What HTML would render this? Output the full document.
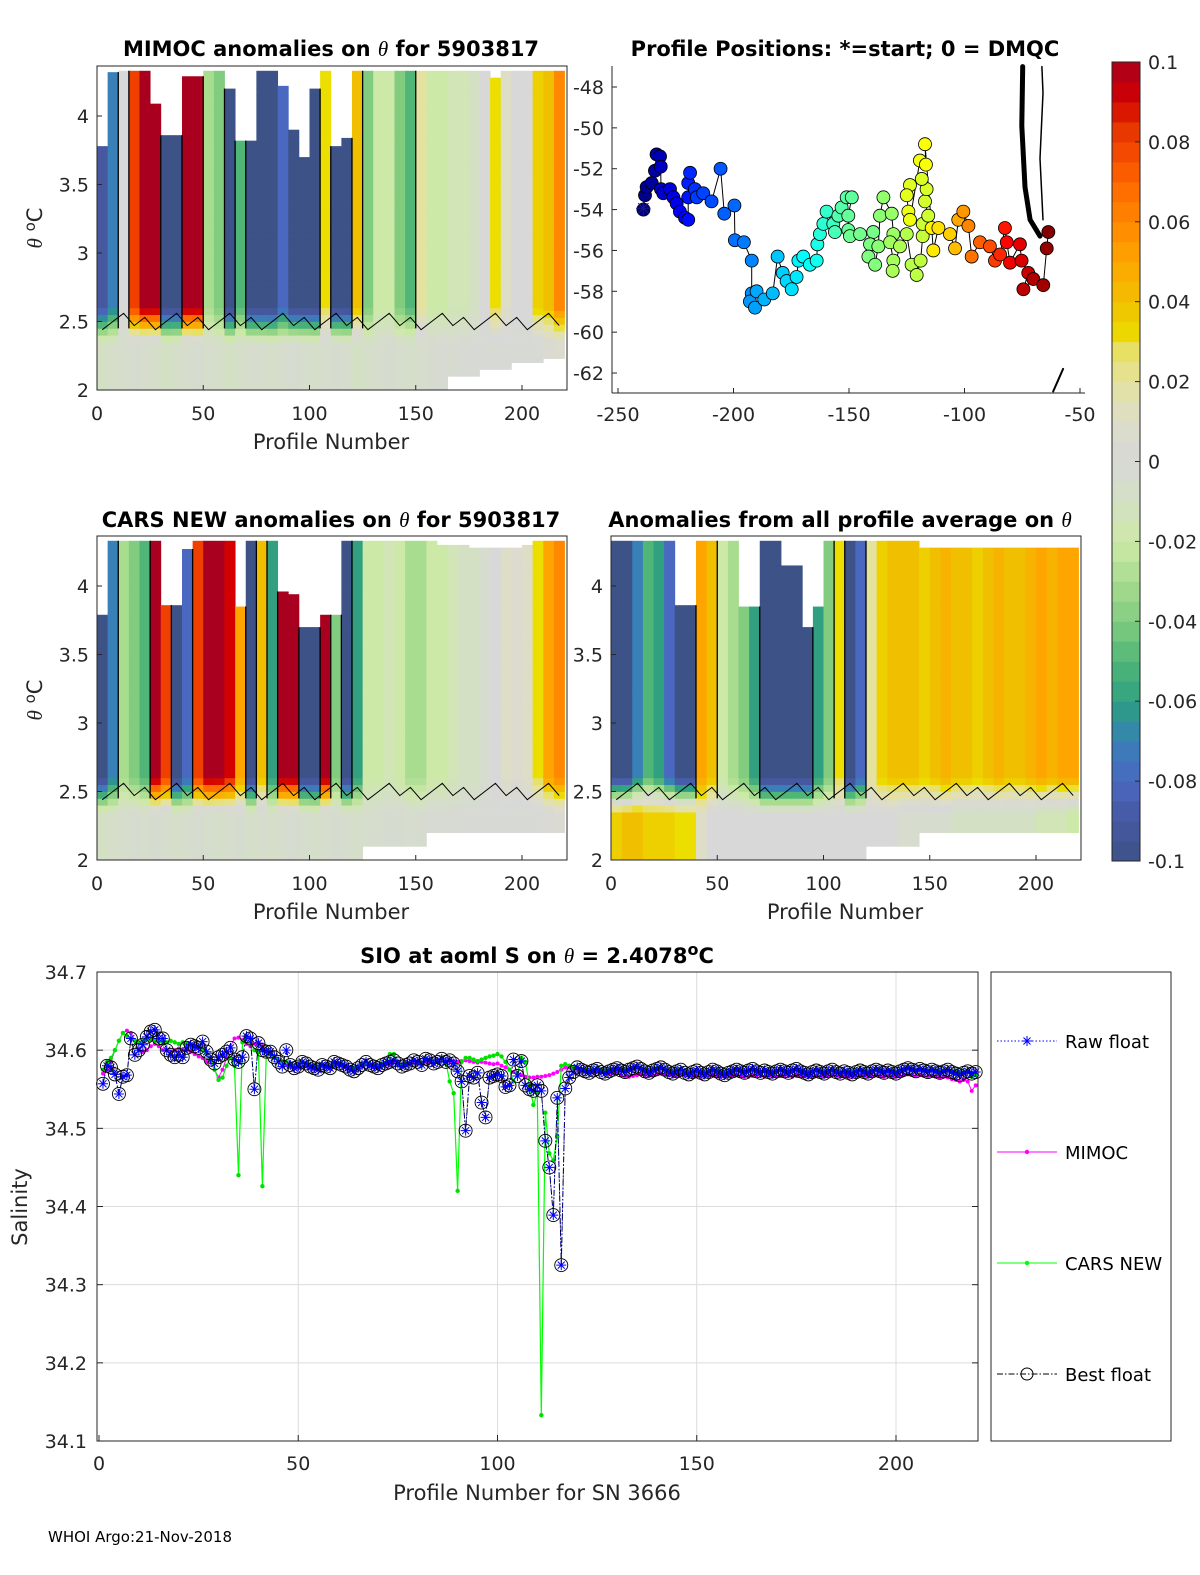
<!DOCTYPE html>
<html><head><meta charset="utf-8">
<style>
html,body{margin:0;padding:0;background:#fff;}
svg{display:block;font-family:"DejaVu Sans","Liberation Sans",sans-serif;}
.tk{font-size:19px;fill:#262626;}
.ttl{font-size:21px;font-weight:bold;fill:#000;}
.lbl{font-size:21px;fill:#262626;}
</style></head>
<body>
<svg id="fig" width="1200" height="1575" viewBox="0 0 1200 1575" xmlns="http://www.w3.org/2000/svg">
<g id="heat1"></g>
<g id="heat3"></g>
<g id="heat4"></g>
<g id="pos"></g>
<g id="cbar"></g>
<g id="sal"></g>
<g id="axes"></g>

<text class="ttl" x="331" y="56" text-anchor="middle">MIMOC anomalies on <tspan font-style="italic" font-weight="normal" font-family="Liberation Serif, serif">θ</tspan>  for 5903817</text>
<text class="ttl" x="845" y="56" text-anchor="middle">Profile Positions: *=start; 0 = DMQC</text>
<text class="ttl" x="331" y="527" text-anchor="middle">CARS NEW anomalies on <tspan font-style="italic" font-weight="normal" font-family="Liberation Serif, serif">θ</tspan> for 5903817</text>
<text class="ttl" x="840" y="527" text-anchor="middle">Anomalies from all profile average on <tspan font-style="italic" font-weight="normal" font-family="Liberation Serif, serif">θ</tspan></text>
<text class="ttl" x="537" y="963" text-anchor="middle">SIO at aoml S on <tspan font-style="italic" font-weight="normal" font-family="Liberation Serif, serif">θ</tspan> = 2.4078<tspan dy="-8" font-size="16">o</tspan><tspan dy="8">C</tspan></text>

<text class="lbl" x="331" y="449" text-anchor="middle">Profile Number</text>
<text class="lbl" x="331" y="919" text-anchor="middle">Profile Number</text>
<text class="lbl" x="845" y="919" text-anchor="middle">Profile Number</text>
<text class="lbl" x="537" y="1500" text-anchor="middle">Profile Number for SN 3666</text>
<text class="lbl" transform="translate(42,228) rotate(-90)" text-anchor="middle"><tspan font-style="italic" font-family="Liberation Serif, serif">θ</tspan> <tspan dy="-7" font-size="15">o</tspan><tspan dy="7">C</tspan></text>
<text class="lbl" transform="translate(42,700) rotate(-90)" text-anchor="middle"><tspan font-style="italic" font-family="Liberation Serif, serif">θ</tspan> <tspan dy="-7" font-size="15">o</tspan><tspan dy="7">C</tspan></text>
<text class="lbl" transform="translate(27,1207) rotate(-90)" text-anchor="middle">Salinity</text>
<text x="48" y="1542" font-size="15" fill="#000">WHOI Argo:21-Nov-2018</text>
</svg>
<script>
// ---------- heatmap data (5-profile bins, 44 bins) ----------
const binProfiles = [0,5,10,15,20,25,30,35,40,45,50,55,60,65,70,75,80,85,90,95,100,105,110,115,120,125,130,135,140,145,150,155,160,165,170,175,180,185,190,195,200,205,210,215];
const mimocUpper = [-0.09,-0.07,0,0.08,0.1,0.1,-0.1,-0.1,0.1,0.1,-0.03,-0.04,-0.1,-0.05,-0.1,-0.1,-0.1,-0.08,-0.1,-0.1,-0.1,0.03,-0.1,-0.1,0.04,-0.04,-0.02,-0.02,-0.04,-0.05,0.02,-0.02,-0.02,-0.015,-0.015,-0.01,0,0.03,0.01,0,0,0.035,0.04,0.06];
const mimocTop = [3.78,4.32,4.33,4.33,4.33,4.09,3.86,3.86,4.29,4.29,4.33,4.33,4.2,3.82,3.82,4.33,4.33,4.22,3.9,3.7,4.2,4.33,3.78,3.84,4.33,4.33,4.33,4.33,4.33,4.33,4.33,4.33,4.33,4.33,4.33,4.33,4.33,4.28,4.33,4.33,4.33,4.33,4.33,4.33];
const mimocBottom = [2,2,2,2,2,2,2,2,2,2,2,2,2,2,2,2,2,2,2,2,2,2,2,2,2,2,2,2,2,2,2,2,2,2.1,2.1,2.1,2.15,2.15,2.15,2.2,2.2,2.2,2.23,2.23];
const mimocLower = [-0.01,-0.008,-0.006,-0.004,-0.006,-0.008,-0.01,-0.008,-0.006,-0.004,-0.006,-0.008,-0.01,-0.008,-0.006,-0.006,-0.008,-0.006,-0.004,-0.006,-0.008,-0.006,-0.004,-0.006,-0.01,-0.008,-0.006,-0.004,-0.006,-0.008,-0.006,-0.004,-0.003,-0.004,-0.003,-0.002,-0.002,-0.003,-0.002,-0.002,-0.002,-0.002,0.004,0.006];
const carsUpper = [-0.1,-0.07,-0.03,-0.04,-0.05,0.1,0.08,-0.1,-0.08,0.08,0.1,0.1,0.09,0.05,-0.1,0.04,-0.06,0.1,0.1,-0.1,-0.1,0.1,-0.04,-0.1,-0.06,-0.02,-0.02,-0.015,-0.02,-0.03,-0.03,-0.02,-0.02,-0.015,-0.01,-0.01,-0.005,0,0.01,0.005,0.01,0.03,0.05,0.06];
const carsTop = [3.79,4.33,4.33,4.33,4.33,4.33,3.86,3.86,4.27,4.33,4.33,4.33,4.33,3.85,4.33,4.33,4.33,3.96,3.94,3.7,3.7,3.79,3.79,4.33,4.33,4.33,4.33,4.33,4.33,4.33,4.33,4.33,4.3,4.3,4.3,4.28,4.28,4.28,4.28,4.28,4.3,4.33,4.33,4.33];
const carsBottom = [2,2,2,2,2,2,2,2,2,2,2,2,2,2,2,2,2,2,2,2,2,2,2,2,2,2.1,2.1,2.1,2.1,2.1,2.1,2.2,2.2,2.2,2.2,2.2,2.2,2.2,2.2,2.2,2.2,2.2,2.2,2.2];
const carsLower = [-0.01,-0.008,-0.006,-0.004,-0.006,-0.004,-0.006,-0.008,-0.006,-0.004,-0.006,-0.008,-0.006,-0.004,-0.008,-0.006,-0.008,-0.006,-0.004,-0.006,-0.008,-0.006,-0.004,-0.006,-0.008,-0.006,-0.005,-0.004,-0.004,-0.005,-0.004,-0.003,-0.003,-0.003,-0.002,-0.002,-0.002,-0.002,-0.002,-0.002,-0.002,-0.002,0.002,0.004];
const avgUpper = [-0.1,-0.1,-0.07,-0.05,-0.06,-0.08,-0.1,-0.1,0.05,0.04,-0.02,-0.03,-0.04,-0.06,-0.1,-0.1,-0.1,-0.1,-0.1,-0.06,-0.04,0.03,-0.1,-0.08,0.02,0.035,0.04,0.04,0.04,0.035,0.04,0.045,0.04,0.04,0.035,0.04,0.045,0.04,0.04,0.045,0.05,0.045,0.05,0.05];
const avgLower = [0.035,0.04,0.04,0.035,0.035,0.035,0.03,0.03,0.01,0,0,0,0,0,0,0,0,0,0,0,0,0,0,0,0,0,0,-0.005,-0.005,-0.005,-0.005,-0.005,-0.01,-0.01,-0.01,-0.01,-0.01,-0.01,-0.01,-0.01,-0.015,-0.015,-0.015,-0.02];
const avgTop = [4.33,4.33,4.33,4.33,4.33,4.33,3.86,3.86,4.33,4.33,4.33,4.33,3.85,3.85,4.33,4.33,4.15,4.15,3.7,3.85,4.33,4.33,4.33,4.33,4.33,4.33,4.33,4.33,4.33,4.28,4.28,4.28,4.28,4.28,4.28,4.28,4.28,4.28,4.28,4.28,4.28,4.28,4.28,4.28];
const avgBottom = [2,2,2,2,2,2,2,2,2,2,2,2,2,2,2,2,2,2,2,2,2,2,2,2,2.1,2.1,2.1,2.1,2.1,2.2,2.2,2.2,2.2,2.2,2.2,2.2,2.2,2.2,2.2,2.2,2.2,2.2,2.2,2.2];
const thetaTicks = [2,2.5,3,3.5,4];
const profTicks = [0,50,100,150,200];

// ---------- position data ----------
const posLon = [-239.0,-238.3,-237.6,-235.4,-234.0,-233.3,-231.8,-231.5,-231.4,-230.4,-227.5,-226.0,-224.6,-223.2,-221.0,-219.6,-219.6,-219.6,-218.8,-216.7,-215.9,-213.1,-209.5,-205.6,-204.0,-199.6,-199.4,-195.5,-192.1,-192.1,-192.9,-190.7,-190.0,-186.7,-183.0,-180.9,-178.7,-177.0,-174.8,-172.7,-171.9,-169.8,-166.9,-164.0,-163.7,-162.6,-161.1,-159.7,-156.8,-156.1,-154.6,-153.2,-151.0,-148.8,-150.3,-150.3,-149.6,-145.2,-139.5,-140.9,-141.6,-138.7,-137.3,-136.6,-135.1,-131.5,-130.8,-132.2,-130.8,-131.1,-127.9,-125.0,-122.9,-120.7,-119.0,-118.1,-118.1,-115.7,-117.1,-116.4,-118.5,-123.6,-125.0,-124.3,-123.6,-119.3,-116.7,-117.1,-114.2,-113.5,-111.3,-106.3,-104.1,-102.7,-100.5,-98.3,-96.9,-93.3,-89.0,-86.8,-84.6,-82.5,-81.7,-80.3,-76.0,-75.3,-72.4,-74.5,-70.2,-65.9,-64.4,-63.7];
const posLat = [-54.0,-53.3,-52.9,-52.7,-52.1,-51.3,-51.4,-51.9,-53.0,-53.2,-53.0,-53.4,-53.7,-54.1,-54.4,-54.5,-53.4,-52.7,-52.2,-53.0,-53.4,-53.2,-53.6,-52.0,-54.2,-53.8,-55.5,-55.6,-56.5,-58.1,-58.5,-58.8,-58.0,-58.4,-58.1,-56.3,-57.1,-57.5,-57.9,-57.3,-56.5,-56.3,-56.7,-56.5,-55.7,-55.2,-54.7,-54.1,-54.7,-55.1,-54.3,-53.9,-53.4,-53.4,-54.3,-55.0,-55.3,-55.2,-55.1,-55.7,-56.3,-56.7,-55.8,-54.3,-53.4,-54.2,-55.2,-55.6,-56.5,-57.0,-55.8,-55.2,-56.7,-57.2,-56.5,-55.3,-54.7,-54.3,-53.6,-53.0,-52.5,-52.8,-53.3,-54.1,-54.5,-51.6,-51.8,-50.8,-54.9,-56.0,-54.9,-55.2,-55.9,-54.5,-54.1,-54.8,-56.3,-55.6,-55.8,-56.5,-56.2,-54.9,-55.6,-56.6,-55.7,-56.5,-57.1,-57.9,-57.4,-57.7,-55.9,-55.1];
const posProfile = [0,2,4,6,8,10,12,14,16,18,20,22,24,26,28,30,32,34,36,38,40,42,44,46,48,50,52,54,56,58,60,62,64,66,68,70,72,74,76,78,80,82,84,86,88,90,92,94,96,98,100,101,102,103,104,105,106,107,108,109,110,111,112,113,114,115,116,117,118,119,120,121,122,123,124,125,126,127,128,129,130,131,132,133,134,135,136,137,140,142,144,148,152,156,160,164,168,172,176,180,184,188,192,195,198,201,204,207,210,213,216,219];
const coastALon = [-74.8,-75.2,-73.8,-71.6,-67.3];
const coastALat = [-47.0,-49.9,-52.9,-54.5,-55.3];
const coastBLon = [-66.5,-66.0,-67.3,-66.0];
const coastBLat = [-47.0,-48.3,-51.5,-54.5];
const coastCLon = [-61.6,-57.3];
const coastCLat = [-62.9,-61.8];
const lonTicks = [-250,-200,-150,-100,-50];
const latTicks = [-48,-50,-52,-54,-56,-58,-60,-62];

// ---------- salinity data (profiles 1..220) ----------
const floatS = [34.557,34.580,34.578,34.569,34.544,34.566,34.568,34.615,34.594,34.600,
34.607,34.617,34.624,34.626,34.615,34.615,34.600,34.594,34.591,34.594,
34.591,34.603,34.607,34.605,34.603,34.611,34.598,34.588,34.583,34.591,
34.594,34.598,34.603,34.588,34.585,34.591,34.618,34.615,34.550,34.609,
34.600,34.598,34.598,34.591,34.585,34.579,34.600,
34.581,34.577,34.579,34.585,34.583,34.579,34.577,34.575,34.581,34.579,34.577,34.585,34.583,34.581,34.579,34.575,34.573,34.577,34.581,34.585,34.581,34.579,34.577,34.581,34.583,34.585,34.587,34.583,34.579,34.581,34.583,34.587,34.585,34.581,34.589,34.587,34.583,34.585,34.589,34.585,
34.587,34.583,34.573,34.560,34.497,34.567,34.565,34.571,34.533,34.514,34.565,34.567,34.569,
34.567,34.553,34.555,34.588,34.567,34.586,34.555,34.550,34.548,34.555,34.548,34.484,34.450,34.389,34.539,34.325,
34.551,34.565,34.572,34.578,
34.575,34.573,34.571,34.574,34.576,34.572,34.570,34.573,34.575,34.577,34.574,34.572,34.575,34.577,34.579,34.576,34.573,34.571,34.574,34.576,
34.578,34.575,34.572,34.570,34.573,34.575,34.571,34.569,34.572,34.574,34.571,34.569,34.572,34.575,34.573,34.570,34.568,34.571,34.573,34.575,
34.573,34.571,34.574,34.576,34.573,34.571,34.574,34.572,34.570,34.573,34.575,34.573,34.571,34.574,34.576,34.573,34.571,34.569,34.572,34.574,
34.572,34.570,34.573,34.575,34.572,34.570,34.573,34.571,34.569,34.572,34.574,34.572,34.570,34.573,34.575,34.573,34.571,34.574,34.572,34.570,
34.573,34.575,34.577,34.575,34.573,34.576,34.574,34.572,34.575,34.573,34.571,34.573,34.575,34.572,34.570,34.568,34.571,34.573,34.570,34.572];
const mimocS = [34.570,34.575,34.585,34.600,34.612,34.622,34.625,34.622,34.612,34.600,
34.598,34.600,34.605,34.608,34.605,34.600,34.600,34.598,34.600,34.602,
34.600,34.600,34.598,34.595,34.592,34.590,34.585,34.584,34.575,34.565,
34.575,34.590,34.605,34.615,34.616,34.613,34.608,34.605,34.608,34.610,
34.605,34.600,34.595,34.592,34.588,34.585,34.582,
34.580,34.578,34.577,34.579,34.580,34.578,34.576,34.578,34.580,34.579,34.578,34.580,34.582,34.580,34.578,34.576,34.575,34.577,34.580,34.582,34.580,34.578,34.577,34.580,34.582,34.583,34.585,34.582,34.580,34.582,34.583,34.585,34.584,34.582,34.586,34.586,34.585,34.586,34.587,34.586,
34.586,34.586,34.585,34.586,34.587,34.586,34.585,34.584,34.585,34.584,34.583,34.582,34.583,
34.580,34.578,34.575,34.572,34.570,34.568,34.566,34.565,34.565,34.566,34.566,34.567,34.568,34.570,34.572,34.575,34.578,34.578,34.577,34.576,
34.574,34.573,34.572,34.572,34.573,34.572,34.571,34.570,34.571,34.572,34.568,34.566,34.566,34.567,34.568,34.569,34.568,34.567,34.568,34.569,
34.570,34.569,34.568,34.567,34.568,34.569,34.568,34.567,34.566,34.567,34.566,34.566,34.567,34.568,34.567,34.566,34.566,34.567,34.568,34.568,
34.567,34.566,34.566,34.567,34.568,34.567,34.566,34.567,34.566,34.566,34.567,34.568,34.567,34.566,34.567,34.568,34.567,34.566,34.566,34.567,
34.566,34.566,34.567,34.568,34.567,34.566,34.567,34.566,34.566,34.567,34.568,34.567,34.566,34.567,34.568,34.567,34.566,34.567,34.566,34.566,
34.567,34.568,34.569,34.568,34.567,34.568,34.567,34.566,34.567,34.566,34.565,34.566,34.565,34.563,34.562,34.560,34.562,34.560,34.548,34.555];
const carsS = [34.575,34.585,34.590,34.600,34.612,34.622,34.618,34.615,34.612,34.610,
34.612,34.614,34.613,34.612,34.611,34.610,34.610,34.612,34.610,34.608,
34.610,34.608,34.607,34.606,34.604,34.600,34.595,34.590,34.575,34.562,
34.565,34.580,34.590,34.580,34.440,34.610,34.615,34.610,34.600,34.598,
34.426,34.600,34.595,34.590,34.588,34.585,34.585,
34.583,34.580,34.581,34.584,34.583,34.581,34.580,34.579,34.582,34.581,34.580,34.584,34.583,34.582,34.580,34.578,34.577,34.579,34.582,34.584,34.582,34.581,34.580,34.582,34.584,34.595,34.595,34.584,34.581,34.583,34.584,34.587,34.586,34.583,34.589,34.588,34.585,34.586,34.589,34.586,
34.560,34.545,34.420,34.585,34.590,34.590,34.588,34.586,34.588,34.590,34.592,34.593,34.595,
34.592,34.585,34.575,34.560,34.570,34.590,34.585,34.555,34.530,34.545,34.133,34.520,34.468,34.459,34.490,34.580,34.582,34.580,34.578,34.577,
34.576,34.575,34.574,34.575,34.577,34.575,34.574,34.575,34.576,34.578,34.576,34.575,34.576,34.578,34.579,34.577,34.575,34.574,34.576,34.577,
34.578,34.576,34.574,34.573,34.575,34.576,34.574,34.572,34.574,34.575,34.573,34.572,34.574,34.576,34.575,34.573,34.572,34.574,34.575,34.576,
34.575,34.573,34.575,34.577,34.575,34.573,34.575,34.574,34.572,34.574,34.576,34.574,34.573,34.575,34.577,34.575,34.573,34.572,34.574,34.575,
34.574,34.572,34.574,34.576,34.574,34.572,34.574,34.573,34.572,34.574,34.575,34.574,34.572,34.574,34.576,34.575,34.573,34.575,34.574,34.572,
34.574,34.576,34.577,34.576,34.574,34.576,34.575,34.574,34.576,34.574,34.573,34.574,34.575,34.573,34.572,34.571,34.572,34.574,34.566,34.568];
const salTicks = [34.1,34.2,34.3,34.4,34.5,34.6,34.7];
const salXTicks = [0,50,100,150,200];
const cbTicks = [-0.1,-0.08,-0.06,-0.04,-0.02,0,0.02,0.04,0.06,0.08,0.1];
const cbLabels = ['-0.1','-0.08','-0.06','-0.04','-0.02','0','0.02','0.04','0.06','0.08','0.1'];

const NS='http://www.w3.org/2000/svg';
function mk(tag, attrs, parent){const e=document.createElementNS(NS,tag);for(const k in attrs)e.setAttribute(k,attrs[k]);if(parent)parent.appendChild(e);return e;}

const stops=[[-0.1,[61,82,135]],[-0.09,[70,88,160]],[-0.08,[74,104,192]],[-0.07,[58,128,184]],[-0.065,[46,143,152]],[-0.06,[48,160,128]],[-0.05,[80,182,120]],[-0.04,[130,204,128]],[-0.03,[168,220,142]],[-0.02,[205,233,168]],[-0.01,[212,224,196]],[0,[216,216,216]],[0.01,[221,221,200]],[0.02,[229,226,160]],[0.028,[232,224,96]],[0.03,[236,223,0]],[0.04,[240,192,0]],[0.05,[255,165,0]],[0.06,[255,136,0]],[0.07,[255,102,0]],[0.08,[240,64,0]],[0.085,[224,48,0]],[0.09,[212,0,0]],[0.1,[168,0,30]]];
function cmap(v){v=Math.max(-0.1,Math.min(0.1,v));for(let i=1;i<stops.length;i++){if(v<=stops[i][0]){const a=stops[i-1],b=stops[i];const t=(v-a[0])/(b[0]-a[0]);const c=a[1].map((x,j)=>Math.round(x+(b[1][j]-x)*t));return 'rgb('+c.join(',')+')';}}return 'rgb(168,0,30)';}

const axes=document.getElementById('axes');

function heatmap(gid, x0, y0, upper, lower, top, bottom, name){
  const g=document.getElementById(gid);
  const px=p=>x0+p*2.125, py=t=>y0-(t-2)*137;
  for(let i=0;i<binProfiles.length;i++){
    const xa=px(binProfiles[i]), xb=px(binProfiles[i]+5);
    for(let t=bottom[i];t<top[i]-1e-6;t+=0.05){
      const t2=Math.min(t+0.05,top[i]);
      const tm=(t+t2)/2;
      const lo=lower[i];
      let v;
      if(tm>=2.6)v=upper[i];else if(tm<2.35)v=lo;else{const f=(tm-2.35)/0.25;v=lo+(upper[i]-lo)*f;}
      const r=mk('rect',{x:xa.toFixed(2),y:py(t2).toFixed(2),width:(xb-xa+0.4).toFixed(2),height:(py(t)-py(t2)+0.4).toFixed(2),fill:cmap(v)},g);
      
      
    }
    if(i>0 && Math.abs(upper[i]-upper[i-1])>0.04){
      const ln=mk('line',{x1:xa,x2:xa,y1:py(Math.min(top[i],top[i-1])),y2:py(2.45),stroke:'#000','stroke-width':1.3},g);
      
      
    }
  }
  let d='';
  for(let i=0;i<binProfiles.length;i++){const th=2.5+((i*7)%5-2)*0.03;d+=(i?'L':'M')+px(binProfiles[i]+2.5).toFixed(1)+','+py(th).toFixed(1);}
  const c=mk('path',{d:d,fill:'none',stroke:'#000','stroke-width':1},g);
  
  
  const b=mk('rect',{x:x0,y:y0-324,width:470,height:324,fill:'none',stroke:'#262626','stroke-width':1},axes);
  
  
  thetaTicks.forEach(t=>{
    mk('line',{x1:x0,x2:x0+5,y1:py(t),y2:py(t),stroke:'#262626'},axes);
    const tx=mk('text',{x:x0-8,y:py(t)+7,'text-anchor':'end',class:'tk'},axes);tx.textContent=String(t);
    
    
  });
  profTicks.forEach(p=>{
    mk('line',{x1:px(p),x2:px(p),y1:y0,y2:y0-5,stroke:'#262626'},axes);
    const tx=mk('text',{x:px(p),y:y0+30,'text-anchor':'middle',class:'tk'},axes);tx.textContent=String(p);
    
    
  });
}
heatmap('heat1',97,390,mimocUpper,mimocLower,mimocTop,mimocBottom,'mimoc');
heatmap('heat3',97,860,carsUpper,carsLower,carsTop,carsBottom,'cars');
heatmap('heat4',611,860,avgUpper,avgLower,avgTop,avgBottom,'average');

(function(){
  const g=document.getElementById('pos');
  const lx=l=>618+(l+250)*2.31, ly=l=>87+(-48-l)*20.43;
  mk('line',{x1:612,x2:612,y1:66,y2:393,stroke:'#262626'},axes);
  mk('line',{x1:612,x2:1085,y1:393,y2:393,stroke:'#262626'},axes);
  latTicks.forEach(t=>{mk('line',{x1:612,x2:617,y1:ly(t),y2:ly(t),stroke:'#262626'},axes);
    const tx=mk('text',{x:604,y:ly(t)+7,'text-anchor':'end',class:'tk'},axes);tx.textContent=String(t);
    
    });
  lonTicks.forEach(t=>{mk('line',{x1:lx(t),x2:lx(t),y1:393,y2:388,stroke:'#262626'},axes);
    const tx=mk('text',{x:lx(t),y:421,'text-anchor':'middle',class:'tk'},axes);tx.textContent=String(t);
    
    });
  const coast=(lo,la,w)=>{let d='';lo.forEach((v,i)=>{d+=(i?'L':'M')+lx(v).toFixed(1)+','+ly(la[i]).toFixed(1);});
    const p=mk('path',{d:d,fill:'none',stroke:'#000','stroke-width':w,'stroke-linecap':'round'},g);
    
    };
  coast(coastALon,coastALat,5);coast(coastBLon,coastBLat,1.5);coast(coastCLon,coastCLat,2);
  let d='';posLon.forEach((v,i)=>{d+=(i?'L':'M')+lx(v).toFixed(1)+','+ly(posLat[i]).toFixed(1);});
  const tr=mk('path',{d:d,fill:'none',stroke:'#000','stroke-width':1},g);
  
  
  function jet(f){const r=Math.min(1,Math.max(0,1.5-Math.abs(4*f-3))),gg=Math.min(1,Math.max(0,1.5-Math.abs(4*f-2))),b=Math.min(1,Math.max(0,1.5-Math.abs(4*f-1)));return 'rgb('+Math.round(r*255)+','+Math.round(gg*255)+','+Math.round(b*255)+')';}
  posLon.forEach((v,i)=>{
    const c=mk('circle',{cx:lx(v),cy:ly(posLat[i]),r:6.5,fill:jet(posProfile[i]/220),stroke:'#000','stroke-width':0.8},g);
    
    
  });
  const s=mk('text',{x:lx(posLon[0]),y:ly(posLat[0])+6,'text-anchor':'middle','font-size':20,fill:'#1a1a80','font-weight':'bold'},g);
  s.textContent='✳';
  
  
})();

(function(){
  const g=document.getElementById('cbar');
  const cy=v=>861-(v+0.1)/0.2*799;
  for(let k=0;k<40;k++){const v0=-0.1+k*0.005;
    const r=mk('rect',{x:1112,y:cy(v0+0.005),width:28,height:cy(v0)-cy(v0+0.005)+0.5,fill:cmap(v0+0.0025)},g);
    
    }
  mk('rect',{x:1112,y:62,width:28,height:799,fill:'none',stroke:'#262626'},g);
  cbTicks.forEach((t,i)=>{mk('line',{x1:1135,x2:1140,y1:cy(t),y2:cy(t),stroke:'#262626'},g);
    const tx=mk('text',{x:1148,y:cy(t)+7,class:'tk','font-size':18},g);tx.textContent=cbLabels[i];
    
    });
})();

(function(){
  const g=document.getElementById('sal');
  const sx=p=>99+p*3.985, sy=s=>972+(34.7-s)*781.7;
  mk('rect',{x:97,y:972,width:881,height:469,fill:'#fff',stroke:'none'},g);
  salXTicks.forEach(p=>{if(p>0)mk('line',{x1:sx(p),x2:sx(p),y1:972,y2:1441,stroke:'#dcdcdc'},g);});
  salTicks.forEach(s=>{mk('line',{x1:97,x2:978,y1:sy(s),y2:sy(s),stroke:'#dcdcdc'},g);});
  const line=(arr,col,w,dash,name)=>{let d='';arr.forEach((v,i)=>{d+=(i?'L':'M')+sx(i+1).toFixed(1)+','+sy(v).toFixed(1);});
    const p=mk('path',{d:d,fill:'none',stroke:col,'stroke-width':w},g);if(dash)p.setAttribute('stroke-dasharray',dash);
    
    };
  line(mimocS,'#ff00ff',1,null,'mimoc-line');
  mimocS.forEach((v,i)=>{const c=mk('circle',{cx:sx(i+1),cy:sy(v),r:2,fill:'#ff00ff'},g);
    
    });
  line(carsS,'#00ff00',1.2,null,'cars-line');
  carsS.forEach((v,i)=>{const c=mk('circle',{cx:sx(i+1),cy:sy(v),r:2.2,fill:'#00e000'},g);
    
    });
  line(floatS,'#000',1,'6,2,1.5,2','best-float-line');
  line(floatS,'#0000ff',0.8,'1.5,2','raw-float-line');
  floatS.forEach((v,i)=>{const x=sx(i+1),y=sy(v);
    const c=mk('circle',{cx:x,cy:y,r:6.5,fill:'none',stroke:'#000','stroke-width':0.9},g);
    
    
    const a=mk('path',{d:`M${x-5},${y}H${x+5}M${x},${y-5}V${y+5}M${x-3.5},${y-3.5}L${x+3.5},${y+3.5}M${x-3.5},${y+3.5}L${x+3.5},${y-3.5}`,stroke:'#0000ff','stroke-width':1},g);
    
    });
  mk('rect',{x:97,y:972,width:881,height:469,fill:'none',stroke:'#262626'},axes);
  salTicks.forEach(s=>{mk('line',{x1:97,x2:103,y1:sy(s),y2:sy(s),stroke:'#262626'},axes);mk('line',{x1:972,x2:978,y1:sy(s),y2:sy(s),stroke:'#262626'},axes);
    const tx=mk('text',{x:87,y:sy(s)+7,'text-anchor':'end',class:'tk'},axes);tx.textContent=s.toFixed(1);
    
    });
  salXTicks.forEach(p=>{mk('line',{x1:sx(p),x2:sx(p),y1:1441,y2:1435,stroke:'#262626'},axes);
    const tx=mk('text',{x:sx(p),y:1470,'text-anchor':'middle',class:'tk'},axes);tx.textContent=String(p);
    
    });
  const L=mk('g',{},axes);
  
  
  mk('rect',{x:991,y:972,width:180,height:469,fill:'#fff',stroke:'#262626'},L);
  const ents=[['Raw float',1041,'#0000ff','1.5,2'],['MIMOC',1152,'#ff00ff',null],['CARS NEW',1263,'#00ff00',null],['Best float',1374,'#000','6,2,1.5,2']];
  ents.forEach((e,i)=>{const y=e[1];
    const ln=mk('line',{x1:997,x2:1057,y1:y,y2:y,stroke:e[2],'stroke-width':1},L);if(e[3])ln.setAttribute('stroke-dasharray',e[3]);
    if(i==0)mk('path',{d:`M1022,${y}H1032M1027,${y-5}V${y+5}M1023.5,${y-3.5}L1030.5,${y+3.5}M1023.5,${y+3.5}L1030.5,${y-3.5}`,stroke:'#0000ff'},L);
    if(i==1||i==2)mk('circle',{cx:1027,cy:y,r:2.2,fill:e[2]},L);
    if(i==3)mk('circle',{cx:1027,cy:y,r:6,fill:'none',stroke:'#000'},L);
    const tx=mk('text',{x:1065,y:y+7,'font-size':18,fill:'#000'},L);tx.textContent=e[0];
    
    });
})();
</script>
</body></html>
